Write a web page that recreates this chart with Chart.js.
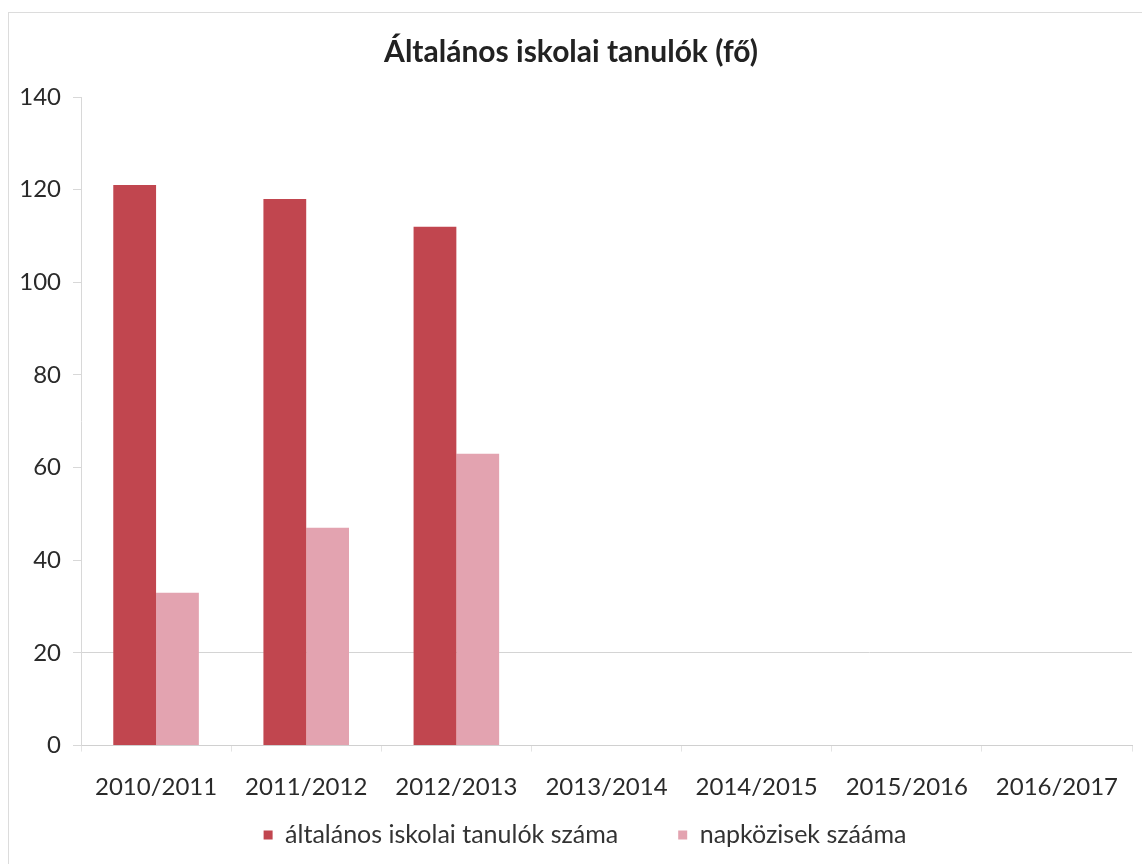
<!DOCTYPE html>
<html>
<head>
<meta charset="utf-8">
<script src="https://cdn.jsdelivr.net/npm/chart.js@4.4.1/dist/chart.umd.min.js"></script>
<style>
  html, body { margin: 0; padding: 0; background: #fff; }
  #frame { position: absolute; left: 8px; top: 12px; width: 1134px; height: 852px;
           border-left: 1px solid #dcdcdc; border-top: 1px solid #dcdcdc; }
  #wrap { position: absolute; left: 0; top: 0; width: 1142px; height: 864px; }
</style>
</head>
<body>
<div id="frame"></div>
<div id="wrap"><canvas id="c" width="1142" height="864"></canvas></div>
<script>
const chartTitle = "Általános iskolai tanulók (fő)";
const categories = ["2010/2011", "2011/2012", "2012/2013", "2013/2014", "2014/2015", "2015/2016", "2016/2017"];
const seriesNames = ["általános iskolai tanulók száma", "napközisek szááma"];
const students = [121, 118, 112, null, null, null, null];
const dayCare = [33, 47, 63, null, null, null, null];
const yTicks = { min: 0, max: 140, step: 20 };

const FONT = "Lato, 'Open Sans', 'Liberation Sans', sans-serif";

// nudge the legend block to sit where the reference has it
const legendShift = {
  id: 'legendShift',
  afterLayout(chart) {
    const lg = chart.legend;
    if (lg) {
      lg.left += 14; lg.right += 14;
      lg.top -= 39.5; lg.height += 39.5;
    }
  }
};

new Chart(document.getElementById('c'), {
  type: 'bar',
  data: {
    labels: categories,
    datasets: [
      { label: seriesNames[0], data: students, backgroundColor: '#c1464f', borderWidth: 0 },
      { label: seriesNames[1], data: dayCare, backgroundColor: '#e3a3b0', borderWidth: 0 }
    ]
  },
  plugins: [legendShift],
  options: {
    responsive: false,
    animation: false,
    devicePixelRatio: 1,
    layout: { padding: { left: 10, right: 10, top: 34, bottom: 0 } },
    datasets: { bar: { categoryPercentage: 0.57, barPercentage: 1.0 } },
    plugins: {
      tooltip: { enabled: false },
      title: {
        display: true, text: chartTitle, color: '#222',
        font: { family: FONT, size: 30, weight: 'bold' },
        padding: { top: 0, bottom: 27 }
      },
      legend: {
        position: 'bottom',
        maxHeight: 62,
        labels: {
          color: '#333', font: { family: FONT, size: 25 },
          boxWidth: 9, boxHeight: 9, padding: 60
        }
      }
    },
    scales: {
      x: {
        grid: { display: true, drawOnChartArea: false, offset: true, color: '#e4e4e4', tickLength: 6 },
        border: { display: true, color: '#d0d0d0' },
        ticks: { color: '#2a2a2a', font: { family: FONT, size: 24 }, padding: 21.6, maxRotation: 0, autoSkip: false },
        afterFit: s => { s.height = 56.4; }
      },
      y: {
        min: yTicks.min, max: yTicks.max,
        grid: {
          color: ctx => (ctx.tick && ctx.tick.value === 20) ? '#d4d4d4' : 'rgba(0,0,0,0)',
          tickColor: '#d8d8d8', tickLength: 8, drawTicks: true
        },
        border: { display: true, color: '#d8d8d8' },
        ticks: { stepSize: yTicks.step, color: '#2a2a2a', font: { family: FONT, size: 24 }, padding: 12 },
        afterFit: s => { s.width = 71; }
      }
    }
  }
});
</script>
</body>
</html>
